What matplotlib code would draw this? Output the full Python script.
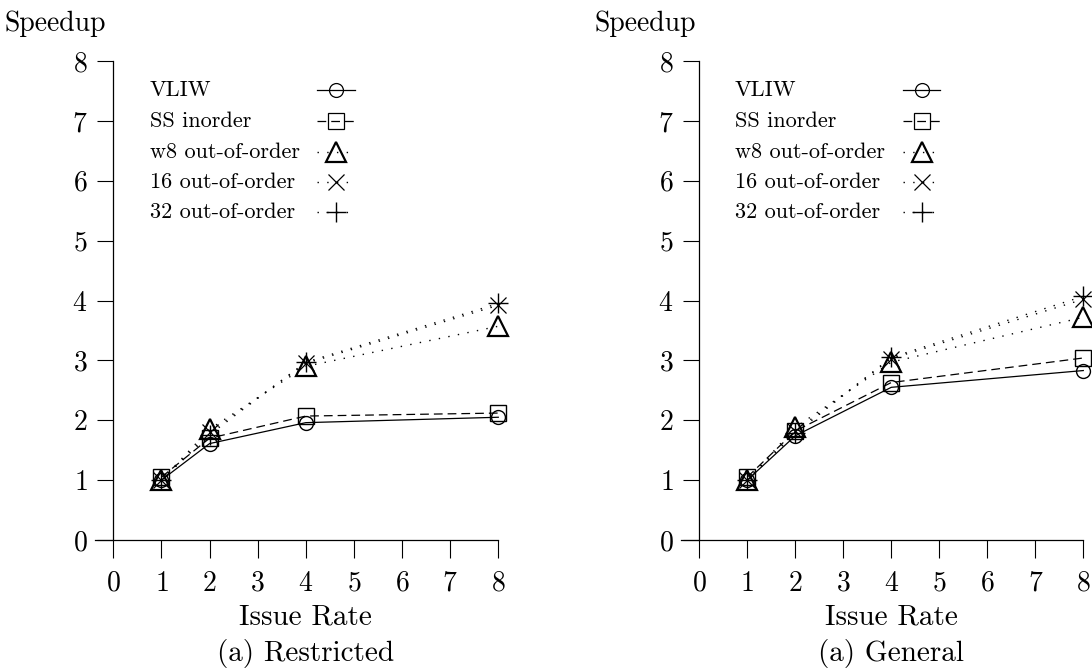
import matplotlib
matplotlib.use('Agg')
import matplotlib.pyplot as plt

plt.rcParams['font.family'] = ['cmr10', 'DejaVu Serif']
plt.rcParams['axes.formatter.use_mathtext'] = True
plt.rcParams['mathtext.fontset'] = 'cm'

issue_rate = [1, 2, 4, 8]
series_names = ['VLIW', 'SS inorder', 'w8 out-of-order', '16 out-of-order', '32 out-of-order']

restricted = {
    'VLIW': [1.0, 1.61, 1.96, 2.05],
    'SS inorder': [1.05, 1.70, 2.07, 2.12],
    'w8 out-of-order': [1.0, 1.85, 2.90, 3.57],
    '16 out-of-order': [1.0, 1.80, 2.95, 3.92],
    '32 out-of-order': [1.0, 1.76, 2.97, 3.95],
}
general = {
    'VLIW': [1.0, 1.74, 2.55, 2.83],
    'SS inorder': [1.05, 1.82, 2.63, 3.04],
    'w8 out-of-order': [1.0, 1.88, 2.97, 3.72],
    '16 out-of-order': [1.0, 1.82, 3.03, 4.02],
    '32 out-of-order': [1.0, 1.78, 3.05, 4.07],
}
panel_titles = ['(a) Restricted', '(a) General']

styles = {
    'VLIW': dict(ls='-', marker='o', ms=10, lw=0.9),
    'SS inorder': dict(ls=(0, (7, 4)), marker='s', ms=11, lw=0.9),
    'w8 out-of-order': dict(ls=(0, (1, 6)), marker='^', ms=15, lw=1.0, mew=1.6),
    '16 out-of-order': dict(ls=(0, (1, 6)), marker='x', ms=11, lw=1.0, mew=0.9),
    '32 out-of-order': dict(ls=(0, (1, 6)), marker='+', ms=14, lw=1.0, mew=1.0),
}

fig = plt.figure(figsize=(10.92, 6.69), dpi=100)
W, H = 1092, 669
boxes = [(95, 498.3), (681, 1083.3)]
ylab_x = [5, 595]
leg_text_x = [150, 735]      # pixel x of legend labels
leg_line_x = [(317, 355), (903, 940)]
leg_rows = [90, 121, 152, 182, 212]

for i, (data, title) in enumerate(zip([restricted, general], panel_titles)):
    x0, x1 = boxes[i]
    ax = fig.add_axes([x0 / W, 1 - 540 / H, (x1 - x0) / W, (540 - 61) / H])
    for name in series_names:
        ax.plot(issue_rate, data[name], clip_on=False, color='black',
                mfc='none', mec='black', **styles[name])
    ax.set_xlim(-0.38, 8)
    ax.set_ylim(0, 8)
    ax.set_xticks(range(9))
    ax.set_yticks(range(9))
    ax.spines['top'].set_visible(False)
    ax.spines['right'].set_visible(False)
    ax.spines['left'].set_position(('data', 0))
    for s in ['left', 'bottom']:
        ax.spines[s].set_linewidth(0.9)
    ax.tick_params(axis='y', direction='out', length=11.5, width=0.8, pad=7, labelsize=20)
    ax.tick_params(axis='x', direction='out', length=13, width=0.8, pad=9, labelsize=20)
    ax.patch.set_visible(False)

    tr = ax.get_xaxis_transform()
    ax.text(4, -0.161, 'Issue Rate', transform=tr, ha='center', va='center', fontsize=21)
    ax.text(4, -0.236, title, transform=tr, ha='center', va='center', fontsize=21)
    fig.text(ylab_x[i] / W, 1 - 24 / H, 'Speedup', ha='left', va='center', fontsize=20)

    # legend: label on the left, line sample on the right
    for name, row in zip(series_names, leg_rows):
        fy = 1 - row / H
        fig.text(leg_text_x[i] / W, fy, name, ha='left', va='center', fontsize=16)
        lx0, lx1 = leg_line_x[i]
        fig.add_artist(plt.Line2D([lx0 / W, lx1 / W], [fy, fy], color='black',
                                  ls=styles[name]['ls'], lw=styles[name]['lw'],
                                  transform=fig.transFigure))
        fig.add_artist(plt.Line2D([(lx0 + lx1) / 2 / W], [fy], color='black',
                                  ls='none', marker=styles[name]['marker'],
                                  ms=styles[name]['ms'], mew=styles[name].get('mew', 0.9),
                                  mfc='none', mec='black', transform=fig.transFigure))

fig.savefig('out.png', dpi=100)
